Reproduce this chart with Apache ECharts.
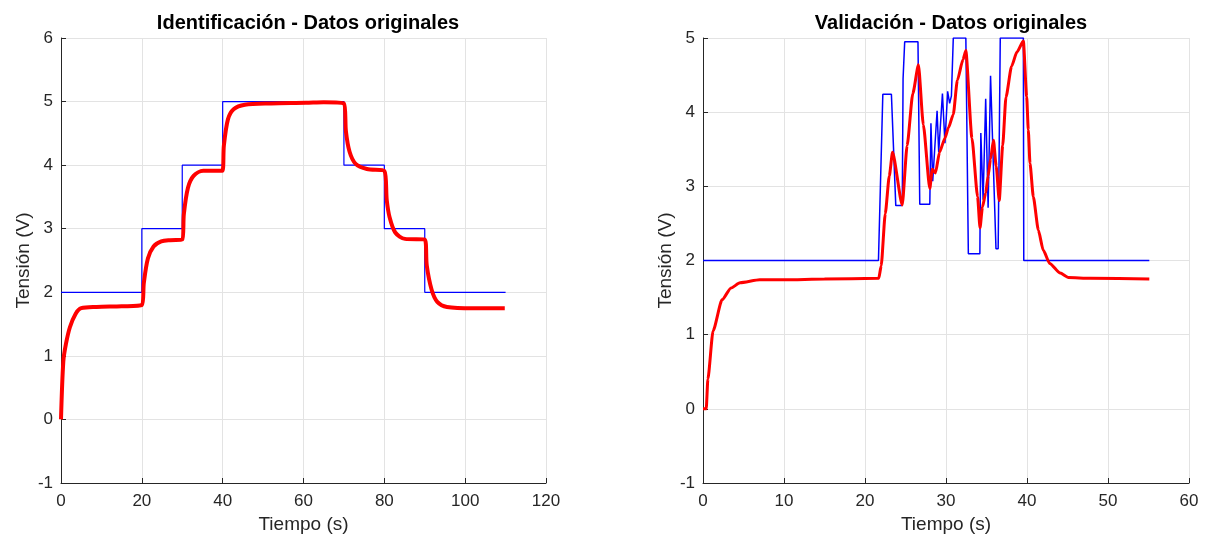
<!DOCTYPE html>
<html>
<head>
<meta charset="utf-8">
<script src="https://cdn.jsdelivr.net/npm/echarts@6/dist/echarts.min.js"></script>
<style>
  html, body { margin: 0; padding: 0; background: #fff; }
  #main { width: 1206px; height: 539px; }
</style>
</head>
<body>
<div id="main"></div>
<script>
// Identificacion: input step (blue) and measured output (red)
var idInT = [0, 20, 20, 30, 30, 40, 40, 70, 70, 80, 80, 90, 90, 110];
var idInV = [2, 2, 3, 3, 4, 4, 5, 5, 4, 4, 3, 3, 2, 2];

var idOutT = [0, 0.57, 1.2, 2.2, 3.6, 5, 8.8, 15, 20,
  20.5, 21.5, 22.9, 24.8, 27, 30,
  30.4, 31.4, 32.8, 35.2, 39.9,
  40.3, 41.3, 42.7, 45.5, 52, 60.6, 65, 70,
  70.5, 71.4, 72.9, 75.7, 80,
  80.6, 81.3, 82.7, 85.1, 90,
  90.5, 91.7, 93.1, 95.5, 102, 109.8];
var idOutV = [0, 0.91, 1.18, 1.45, 1.66, 1.75, 1.77, 1.78, 1.8,
  2.15, 2.53, 2.72, 2.8, 2.82, 2.83,
  3.23, 3.64, 3.83, 3.91, 3.91,
  4.31, 4.72, 4.88, 4.95, 4.97, 4.98, 4.99, 4.97,
  4.53, 4.21, 4.02, 3.94, 3.91,
  3.45, 3.18, 2.94, 2.84, 2.83,
  2.42, 2.04, 1.85, 1.77, 1.75, 1.75];

// Validacion: input (blue) and measured output (red)
var vaInT = [0, 21.66, 22.2, 23.26, 23.8, 24.6, 24.7, 24.9, 26.54, 26.76, 28.0,
  28.14, 28.36, 28.9, 29.1, 29.56, 29.87, 30.2, 30.45, 30.67, 30.9,
  32.45, 32.76, 34.18, 34.3, 34.58, 34.9, 35.2, 35.5, 35.64, 36.17, 36.44, 36.7,
  39.55, 39.6, 55.1];
var vaInV = [2, 2, 4.24, 4.24, 2.74, 2.74, 4.45, 4.95, 4.95, 2.76, 2.76,
  3.85, 3.07, 4.02, 3.46, 4.25, 3.58, 4.28, 4.12, 4.22, 5,
  5, 2.09, 2.09, 3.72, 2.82, 4.18, 2.71, 4.49, 4.48, 2.16, 2.16, 5,
  5, 2, 2];

var vaOutT = [0, 0.4, 0.6, 1.24, 2.35, 3.46, 4.57, 7, 10.1, 15, 21.7,
  22, 22.5, 23, 23.4, 24.6, 25.2, 25.9, 26.6, 27.2, 28.0,
  28.3, 28.7, 29.2, 29.87, 30.3, 30.9, 31.4, 32.1, 32.45,
  33.2, 33.9, 34.2, 34.5, 34.9, 35.2, 35.5, 35.86, 36.2, 36.57,
  37, 37.4, 38.1, 38.75, 39.55,
  39.96, 40.16, 40.37, 40.78, 41.4, 42.0, 42.8, 44.1, 45.1, 47.8, 55.1];
var vaOutV = [0, 0, 0.4, 1.05, 1.47, 1.63, 1.7, 1.74, 1.74, 1.75, 1.76,
  1.93, 2.63, 3.14, 3.46, 2.75, 3.55, 4.25, 4.64, 3.83, 2.97,
  3.23, 3.18, 3.46, 3.65, 3.79, 3.97, 4.43, 4.71, 4.83,
  3.65, 2.86, 2.44, 2.72, 2.91, 3.14, 3.37, 3.62, 3.27, 2.81,
  3.55, 4.2, 4.62, 4.81, 4.96,
  4.21, 3.76, 3.31, 2.86, 2.41, 2.14, 1.96, 1.83, 1.77, 1.76, 1.75];

function zip(t, v) {
  var out = [];
  for (var i = 0; i < t.length; i++) out.push([t[i], v[i]]);
  return out;
}

var font = 'Liberation Sans, Arial, sans-serif';
var axisCol = '#262626';

function xAx(idx, max, interval) {
  return {
    type: 'value', gridIndex: idx, min: 0, max: max, interval: interval,
    name: 'Tiempo (s)', nameLocation: 'middle', nameGap: 31,
    nameTextStyle: { fontFamily: font, fontSize: 19, color: axisCol },
    axisLine: { show: true, onZero: false, lineStyle: { color: axisCol, width: 1 } },
    axisTick: { show: true, inside: true, length: 5, lineStyle: { color: axisCol } },
    axisLabel: { fontFamily: font, fontSize: 17, color: axisCol, margin: 10 },
    splitLine: { show: true, lineStyle: { color: '#e3e3e3', width: 1 } }
  };
}
function yAx(idx, min, max) {
  return {
    type: 'value', gridIndex: idx, min: min, max: max, interval: 1,
    name: 'Tensión (V)', nameLocation: 'middle', nameGap: 28,
    nameTextStyle: { fontFamily: font, fontSize: 19, color: axisCol },
    axisLine: { show: true, onZero: false, lineStyle: { color: axisCol, width: 1 } },
    axisTick: { show: true, inside: true, length: 5, lineStyle: { color: axisCol } },
    axisLabel: { fontFamily: font, fontSize: 17, color: axisCol, margin: 8 },
    splitLine: { show: true, lineStyle: { color: '#e3e3e3', width: 1 } }
  };
}

var chart = echarts.init(document.getElementById('main'));
chart.setOption({
  animation: false,
  backgroundColor: '#fff',
  title: [
    { text: 'Identificación - Datos originales', left: 303, top: 8, textAlign: 'center',
      textStyle: { fontFamily: font, fontSize: 20, fontWeight: 'bold', color: '#000' } },
    { text: 'Validación - Datos originales', left: 946, top: 8, textAlign: 'center',
      textStyle: { fontFamily: font, fontSize: 20, fontWeight: 'bold', color: '#000' } }
  ],
  grid: [
    { left: 61, top: 38, width: 485, height: 445 },
    { left: 703, top: 38, width: 486, height: 445 }
  ],
  xAxis: [xAx(0, 120, 20), xAx(1, 60, 10)],
  yAxis: [yAx(0, -1, 6), yAx(1, -1, 5)],
  series: [
    { type: 'line', xAxisIndex: 0, yAxisIndex: 0, data: zip(idInT, idInV), showSymbol: false,
      lineStyle: { color: '#0000ff', width: 1.2 }, z: 2 },
    { type: 'line', xAxisIndex: 0, yAxisIndex: 0, data: zip(idOutT, idOutV), showSymbol: false,
      smooth: 0.3, lineStyle: { color: '#ff0000', width: 4 }, z: 3 },
    { type: 'line', xAxisIndex: 1, yAxisIndex: 1, data: zip(vaInT, vaInV), showSymbol: false,
      lineStyle: { color: '#0000ff', width: 1.5 }, z: 2 },
    { type: 'line', xAxisIndex: 1, yAxisIndex: 1, data: zip(vaOutT, vaOutV), showSymbol: false,
      smooth: 0.2, smoothMonotone: 'x', lineStyle: { color: '#ff0000', width: 3 }, z: 3 }
  ]
});
</script>
</body>
</html>
